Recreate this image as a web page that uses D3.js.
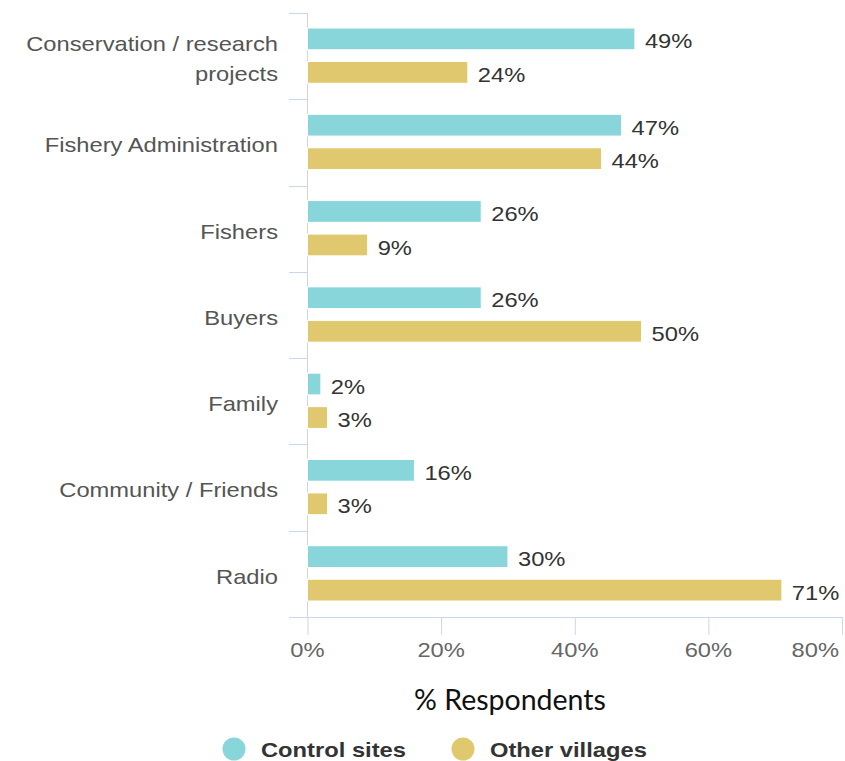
<!DOCTYPE html>
<html>
<head>
<meta charset="utf-8">
<script src="https://cdn.jsdelivr.net/npm/d3@7"></script>
<style>
  html, body { margin: 0; padding: 0; background: #fff; }
  svg { display: block; }
</style>
</head>
<body>
<svg id="chart" width="845" height="761"></svg>
<script>
// Sources of information, share of respondents (%)
const categories = [
  ["Conservation / research", "projects"],
  ["Fishery Administration"],
  ["Fishers"],
  ["Buyers"],
  ["Family"],
  ["Community / Friends"],
  ["Radio"]
];
const seriesNames = ["Control sites", "Other villages"];
const controlSites = [49, 47, 26, 26, 2, 16, 30];
const otherVillages = [24, 44, 9, 50, 3, 3, 71];
const xTicks = [0, 20, 40, 60, 80];
const colors = ["#89d6da", "#e0c86f"];
const axisTitle = "% Respondents";

const svg = d3.select("#chart");
const plot = { left: 307.5, right: 842, top: 13, bottom: 617 };

const x = d3.scaleLinear().domain([0, 80]).range([plot.left, plot.right]);
const catKeys = categories.map(c => c.join(" "));
const y = d3.scaleBand().domain(catKeys).range([plot.top, plot.bottom]).padding(0);
const inner = d3.scaleBand().domain([0, 1])
  .range([15, y.bandwidth() - 16]).paddingInner(0.35).paddingOuter(0);

const axisColor = "#ccd6eb";
const labelFont = "'Liberation Sans', Arial, sans-serif";
const stretch = 1.13; // slightly widened lettering

// text placed at (px, py), widened horizontally around its anchor
function wideText(parent, px, py, anchor) {
  return parent.append("g")
    .attr("transform", `translate(${px},${py}) scale(${stretch},1)`)
    .append("text")
    .attr("text-anchor", anchor)
    .style("font-family", labelFont);
}

// x axis ticks and labels
const xAxis = svg.append("g")
  .attr("transform", `translate(0,${plot.bottom})`)
  .call(d3.axisBottom(x).tickValues(xTicks).tickFormat("")
    .tickSizeInner(18).tickSizeOuter(0));
xAxis.select(".domain").remove();
xAxis.selectAll(".tick line").attr("stroke", axisColor);
xTicks.forEach((v, i) => {
  const last = i === xTicks.length - 1;
  wideText(svg, last ? 839 : x(v), 657, last ? "end" : "middle")
    .attr("fill", "#666").style("font-size", "21px")
    .text(v + "%");
});
svg.append("line")
  .attr("x1", 289).attr("x2", plot.right + 1)
  .attr("y1", plot.bottom + 0.5).attr("y2", plot.bottom + 0.5)
  .attr("stroke", axisColor);

// y axis: vertical line with ticks at category boundaries
svg.append("line")
  .attr("x1", plot.left).attr("x2", plot.left)
  .attr("y1", plot.top).attr("y2", plot.bottom)
  .attr("stroke", axisColor);
const bounds = catKeys.map(k => y(k)).concat([plot.bottom]);
svg.append("g").selectAll("line").data(bounds).join("line")
  .attr("x1", 289).attr("x2", plot.left)
  .attr("y1", d => Math.round(d) + 0.5).attr("y2", d => Math.round(d) + 0.5)
  .attr("stroke", axisColor);

// category labels
categories.forEach((lines, i) => {
  const cy = y(catKeys[i]) + y.bandwidth() / 2 + 2.5;
  const lh = 30;
  const t = wideText(svg, 278, cy, "end")
    .attr("fill", "#555").style("font-size", "21px");
  lines.forEach((ln, j) => {
    t.append("tspan").attr("x", 0)
      .attr("y", (j - (lines.length - 1) / 2) * lh)
      .attr("dy", "0.35em").text(ln);
  });
});

// bars and value labels
const series = [controlSites, otherVillages];
series.forEach((vals, s) => {
  const g = svg.append("g");
  g.selectAll("rect").data(vals).join("rect")
    .attr("x", x(0))
    .attr("y", (d, i) => y(catKeys[i]) + inner(s))
    .attr("width", d => x(d) - x(0))
    .attr("height", inner.bandwidth())
    .attr("fill", colors[s])
    .attr("stroke", "#fff").attr("stroke-width", 1);
  vals.forEach((d, i) => {
    wideText(g, x(d) + 10, y(catKeys[i]) + inner(s) + inner.bandwidth() / 2 + 2, "start")
      .attr("dy", "0.36em")
      .attr("fill", "#333").style("font-size", "21px")
      .text(d + "%");
  });
});

// axis title
svg.append("text")
  .attr("x", 510).attr("y", 710).attr("text-anchor", "middle")
  .attr("fill", "#111").style("font-family", "Lato, 'Open Sans', sans-serif").style("font-size", "28.5px")
  .text(axisTitle);

// legend
const legendX = [234, 463];
const legend = svg.append("g");
seriesNames.forEach((name, i) => {
  legend.append("circle").attr("cx", legendX[i]).attr("cy", 749).attr("r", 11.5).attr("fill", colors[i]);
  wideText(legend, legendX[i] + 27, 749, "start")
    .attr("dy", "0.36em")
    .attr("fill", "#333").style("font-size", "21px").style("font-weight", "bold")
    .text(name);
});
</script>
</body>
</html>
